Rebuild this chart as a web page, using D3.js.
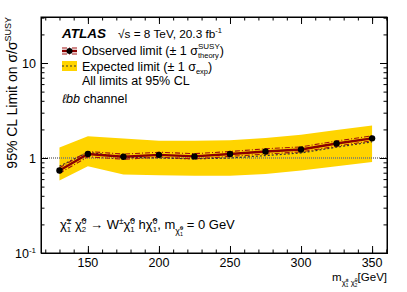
<!DOCTYPE html>
<html>
<head>
<meta charset="utf-8">
<script src="https://cdn.jsdelivr.net/npm/d3@7"></script>
<style>
  body { margin: 0; background: #fff; }
  text { font-family: "Liberation Sans", Arial, sans-serif; white-space: pre; }
</style>
</head>
<body>
<div id="chart"></div>
<script>
const mass = [130, 150, 175, 200, 225, 250, 275, 300, 325, 350];
const observed = [0.74, 1.10, 1.03, 1.08, 1.04, 1.10, 1.17, 1.23, 1.42, 1.61];
const theoryUp = [0.79, 1.17, 1.10, 1.15, 1.11, 1.17, 1.25, 1.31, 1.51, 1.71];
const theoryDown = [0.69, 1.03, 0.97, 1.02, 0.98, 1.04, 1.10, 1.16, 1.33, 1.52];
const expected = [0.82, 1.15, 1.02, 1.00, 0.98, 1.00, 1.06, 1.13, 1.30, 1.48];
const expUp = [1.29, 1.69, 1.60, 1.52, 1.52, 1.54, 1.62, 1.76, 1.97, 2.20];
const expDown = [0.58, 0.82, 0.67, 0.66, 0.65, 0.65, 0.68, 0.74, 0.82, 0.91];
const xMajor = [150, 200, 250, 300, 350];
const yMajor = [0.1, 1, 10];

const W = 407, H = 292;
const margin = { left: 41, top: 17, right: 20, bottom: 39 };
const width = W - margin.left - margin.right,
  height = H - margin.top - margin.bottom;

const svg = d3.select('#chart').append('svg')
  .attr('width', W).attr('height', H);

const g = svg.append('g')
  .attr('transform', `translate(${margin.left},${margin.top})`);

const x = d3.scaleLinear().domain([117, 360.5]).range([0, width]);
const y = d3.scaleLog().domain([0.1, 30.5]).range([height, 0]);

const pts = mass.map((m, i) => ({ m, obs: observed[i], tu: theoryUp[i], td: theoryDown[i], exp: expected[i], eu: expUp[i], ed: expDown[i] }));

const band = d3.area().x(d => x(d.m)).y0(d => y(d.ed)).y1(d => y(d.eu));
g.append('path').datum(pts).attr('d', band).attr('fill', '#ffd400');

// reference line at 1
g.append('line')
  .attr('x1', 0).attr('x2', width).attr('y1', y(1)).attr('y2', y(1))
  .attr('stroke', '#777').attr('stroke-width', 1.5).attr('stroke-dasharray', '1,1');

const line = key => d3.line().x(d => x(d.m)).y(d => y(d[key]));
g.append('path').datum(pts).attr('d', line('exp'))
  .attr('fill', 'none').attr('stroke', '#333').attr('stroke-width', 1.2).attr('stroke-dasharray', '2,2');
['tu', 'td'].forEach(k => {
  g.append('path').datum(pts).attr('d', line(k))
    .attr('fill', 'none').attr('stroke', '#a01010').attr('stroke-width', 1.1).attr('stroke-dasharray', '5,2,1,2');
});
g.append('path').datum(pts).attr('d', line('obs'))
  .attr('fill', 'none').attr('stroke', '#8b0000').attr('stroke-width', 2.4);
g.selectAll('circle.obs').data(pts).enter().append('circle')
  .attr('class', 'obs').attr('cx', d => x(d.m)).attr('cy', d => y(d.obs)).attr('r', 3.2).attr('fill', '#000');

// axes with inward ticks on all sides
const xMinor = d3.range(120, 361, 10);
const yMinor = [0.2, 0.3, 0.4, 0.5, 0.6, 0.7, 0.8, 0.9, 2, 3, 4, 5, 6, 7, 8, 9, 20, 30];
function tickAxis(axisFn, scale, vals, size) {
  return axisFn(scale).tickValues(vals).tickSize(-size).tickFormat('');
}
const axes = [
  [d3.axisBottom, x, `translate(0,${height})`],
  [d3.axisTop, x, 'translate(0,0)'],
  [d3.axisLeft, y, 'translate(0,0)'],
  [d3.axisRight, y, `translate(${width},0)`]
];
axes.forEach(([fn, sc, tr]) => {
  const isX = sc === x;
  g.append('g').attr('transform', tr).call(tickAxis(fn, sc, isX ? xMinor : yMinor, 3.5));
  g.append('g').attr('transform', tr).call(tickAxis(fn, sc, isX ? xMajor : yMajor, 7));
});
g.selectAll('.domain').attr('stroke', '#000');
g.selectAll('.tick line').attr('stroke', '#000');
g.append('rect').attr('width', width).attr('height', height)
  .attr('fill', 'none').attr('stroke', '#000').attr('stroke-width', 1);

// tick labels
g.selectAll('text.xl').data(xMajor).enter().append('text')
  .attr('class', 'xl').attr('x', d => x(d)).attr('y', height + 13.5)
  .attr('text-anchor', 'middle').style('font-size', '12.5px').text(d => d);
g.append('text').attr('x', -5).attr('y', y(10) + 4.5).attr('text-anchor', 'end').style('font-size', '12.5px').text('10');
g.append('text').attr('x', -5).attr('y', y(1) + 4.5).attr('text-anchor', 'end').style('font-size', '12.5px').text('1');
const tm = g.append('text').attr('x', -5).attr('y', y(0.1) + 4.5).attr('text-anchor', 'end').style('font-size', '12.5px');
tm.append('tspan').text('10');
tm.append('tspan').attr('dy', -5).style('font-size', '8px').text('-1');

// rich text helper: strings, {t,i,b}, {sup,sub} stacked, {low:[...]}
function rich(parent, x0, y0, parts, base) {
  let cx = x0;
  parts.forEach(p => {
    if (typeof p === 'string') p = { t: p };
    if (p.t != null) {
      const t = parent.append('text').attr('x', cx).attr('y', y0)
        .style('font-size', base + 'px')
        .style('font-style', p.i ? 'italic' : 'normal')
        .style('font-weight', p.b ? 'bold' : 'normal').text(p.t);
      cx += t.node().getComputedTextLength();
    } else if (p.low) {
      cx = rich(parent, cx, y0 + base * 0.35, p.low, base * 0.68);
    } else {
      let w = 0;
      if (p.sup) {
        const t = parent.append('text').attr('x', cx).attr('y', y0 - base * 0.42)
          .style('font-size', base * 0.64 + 'px').text(p.sup);
        w = Math.max(w, t.node().getComputedTextLength());
      }
      if (p.sub) {
        const t = parent.append('text').attr('x', cx).attr('y', y0 + base * 0.25)
          .style('font-size', base * 0.6 + 'px').text(p.sub);
        w = Math.max(w, t.node().getComputedTextLength());
      }
      cx += w;
    }
  });
  return cx;
}

const chi = 'χ\u0303';
rich(svg, 62, 38, [{ t: 'ATLAS', i: true, b: true }], 13.5);
rich(svg, 118, 38, ['√s = 8 TeV, 20.3 fb', { sup: '-1' }], 11.8);
rich(svg, 82, 54.5, ['Observed limit (± 1 σ', { sup: 'SUSY', sub: 'theory' }, ')'], 12.5);
rich(svg, 82, 70.5, ['Expected limit (± 1 σ', { sub: 'exp' }, ')'], 12.5);
rich(svg, 82, 85, ['All limits at 95% CL'], 12.5);
rich(svg, 62, 103, [{ t: 'ℓ', i: true }, { t: 'bb', i: true }, ' channel'], 12.5);
rich(svg, 60, 229, [chi, { sup: '±', sub: '1' }, ' ' + chi, { sup: '0', sub: '2' }, ' → W', { sup: '±' },
  chi, { sup: '0', sub: '1' }, ' h' + chi, { sup: '0', sub: '1' }, ', m',
  { low: [chi, { sup: '0', sub: '1' }] }, ' = 0 GeV'], 13);

// legend symbols
const lg = svg.append('g');
[-3, 3].forEach(o => lg.append('line').attr('x1', 62).attr('x2', 77).attr('y1', 51 + o).attr('y2', 51 + o)
  .attr('stroke', '#a01010').attr('stroke-width', 1.1).attr('stroke-dasharray', '5,2,1,2'));
lg.append('line').attr('x1', 62).attr('x2', 77).attr('y1', 51).attr('y2', 51).attr('stroke', '#8b0000').attr('stroke-width', 2.4);
lg.append('circle').attr('cx', 69.5).attr('cy', 51).attr('r', 3).attr('fill', '#000');
lg.append('rect').attr('x', 62).attr('y', 61).attr('width', 15).attr('height', 10).attr('fill', '#ffd400');
lg.append('line').attr('x1', 62).attr('x2', 77).attr('y1', 66).attr('y2', 66)
  .attr('stroke', '#333').attr('stroke-width', 1.2).attr('stroke-dasharray', '2,2');

// x axis title, right aligned
const xt = svg.append('g');
const xEnd = rich(xt, 0, 0, ['m', { low: [chi, { sup: '±', sub: '1' }, ' ' + chi, { sup: '0', sub: '2' }] }, '[GeV]'], 11.5);
xt.attr('transform', `translate(${margin.left + width - xEnd},281)`);

// y axis title, rotated, ending at top of frame
const yt = svg.append('g');
const yEnd = rich(yt, 0, 0, ['95% CL Limit on σ/σ', { sup: 'SUSY' }], 14);
yt.attr('transform', `translate(17,${margin.top + yEnd}) rotate(-90)`);
</script>
</body>
</html>
